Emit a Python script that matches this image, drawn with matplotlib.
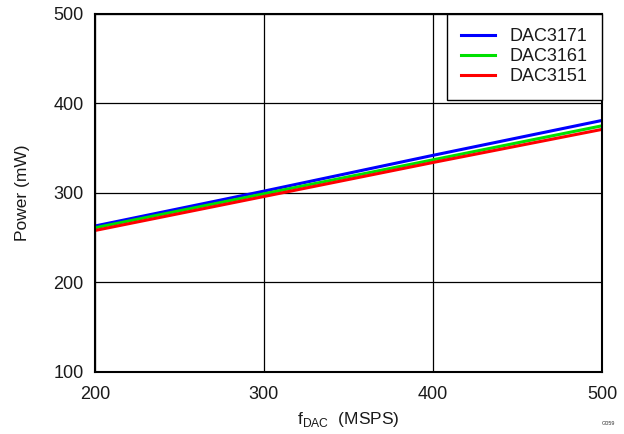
import matplotlib.pyplot as plt

plt.rcParams['font.family'] = ['Liberation Sans', 'DejaVu Sans']

# data
fdac = [200, 300, 400, 500]
dac3171 = [263, 302, 342, 381]
dac3161 = [261, 299, 337, 375]
dac3151 = [258, 296, 334, 371]

fig = plt.figure(figsize=(6.24, 4.34), dpi=100)
ax = fig.add_axes([0.152, 0.143, 0.813, 0.825])

ax.plot(fdac, dac3171, color="#0000ff", lw=2.2, label="DAC3171")
ax.plot(fdac, dac3161, color="#00e000", lw=2.2, label="DAC3161")
ax.plot(fdac, dac3151, color="#ff0000", lw=2.2, label="DAC3151")

ax.set_xlim(200, 500)
ax.set_ylim(100, 500)
ax.set_xticks([200, 300, 400, 500])
ax.set_yticks([100, 200, 300, 400, 500])
ax.grid(True, color="black", lw=0.9)
ax.tick_params(length=0, labelsize=13, colors="#1a1a1a")
ax.tick_params(axis="x", pad=10)
ax.tick_params(axis="y", pad=8)
for s in ax.spines.values():
    s.set_linewidth(1.5)
    s.set_color("black")

ax.set_ylabel("Power (mW)", fontsize=12.5, color="#1a1a1a", labelpad=17)
ax.set_xlabel("f$_{\\mathregular{DAC}}$  (MSPS)", fontsize=12.5, color="#1a1a1a", labelpad=5)

leg = ax.legend(loc="upper right", fontsize=13, frameon=True, fancybox=False,
                edgecolor="black", borderaxespad=0, handlelength=1.9,
                handletextpad=0.8, labelspacing=0.16, borderpad=0.8)
leg.get_frame().set_linewidth(1.0)
leg.get_frame().set_alpha(1)
for t in leg.get_texts():
    t.set_color("#1a1a1a")

fig.text(0.985, 0.025, "G059", fontsize=4, ha="right", va="center", color="#333333")

fig.savefig("out.png", dpi=100)
